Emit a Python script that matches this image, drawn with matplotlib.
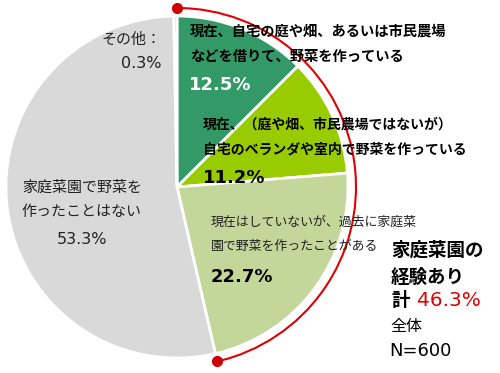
import matplotlib.pyplot as plt
from matplotlib.patches import Arc
import numpy as np

plt.rcParams['font.family'] = ['Noto Sans CJK JP', 'DejaVu Sans']

# 割合（12時から時計回り）
labels = ['現在、自宅の庭や畑、あるいは市民農場\nなどを借りて、野菜を作っている',
          '現在、（庭や畑、市民農場ではないが）\n自宅のベランダや室内で野菜を作っている',
          '現在はしていないが、過去に家庭菜\n園で野菜を作ったことがある',
          '家庭菜園で野菜を\n作ったことはない',
          'その他：']
values = [12.5, 11.2, 22.7, 53.3, 0.3]
colors = ['#339966', '#99cc00', '#c4d79b', '#d9d9d9', '#bfbfbf']
total_exp = '46.3%'
n_text = 'N=600'

H = 373
fig = plt.figure(figsize=(5, 3.73), dpi=100)
ax = fig.add_axes([0, 0, 1, 1])

cx, cy, r = 177, H - 187, 171
ax.pie(values, colors=colors, startangle=90, counterclock=False,
       center=(cx, cy), radius=r, frame=True,
       wedgeprops=dict(edgecolor='white', linewidth=2))
ax.set_xlim(0, 500)
ax.set_ylim(0, H)
ax.set_aspect('equal')
ax.axis('off')

# 経験ありの赤い弧
exp_frac = sum(values[:3]) / sum(values)
end_ang = 90 - 360 * exp_frac
ra = 179
ax.add_patch(Arc((cx, cy), 2 * ra, 2 * ra, theta1=end_ang, theta2=90,
                 color='#e00000', lw=1.5))
for a in (90, end_ang):
    ax.plot(cx + ra * np.cos(np.radians(a)), cy + ra * np.sin(np.radians(a)),
            'o', color='#cc0000', ms=7)

def t(x, y, s, **kw):
    ax.text(x, H - y, s, va='center', **kw)

num = dict(family='DejaVu Sans')
t(190, 44, labels[0], fontsize=10.3, fontweight='bold', linespacing=2.0)
t(189, 85, f'{values[0]}%', fontsize=13, fontweight='bold', color='white', **num)
t(203, 137, labels[1], fontsize=10, fontweight='bold', linespacing=2.0)
t(203, 178, f'{values[1]}%', fontsize=13, fontweight='bold', **num)
t(211, 234.5, labels[2], fontsize=9.3, color='#222222', linespacing=2.1)
t(211, 277, f'{values[2]}%', fontsize=13, fontweight='bold', **num)
t(82, 200, labels[3], fontsize=10.8, ha='center', color='#222222',
  linespacing=1.95)
t(82, 240, f'{values[3]}%', fontsize=11.5, ha='center', color='#222222', **num)
t(161, 40, labels[4], fontsize=10.8, ha='right', color='#222222')
t(161, 64, f'{values[4]}%', fontsize=11.5, ha='right', color='#222222', **num)

t(391, 264, '家庭菜園の\n経験あり', fontsize=13.3, fontweight='bold',
  linespacing=1.55)
t(391, 300, '計', fontsize=13.3, fontweight='bold')
t(417, 300, total_exp, fontsize=14.5, color='#dd0000', **num)
t(390, 327, '全体', fontsize=11.5)
t(389, 351, n_text, fontsize=13, **num)

fig.savefig('out.png', dpi=100)
